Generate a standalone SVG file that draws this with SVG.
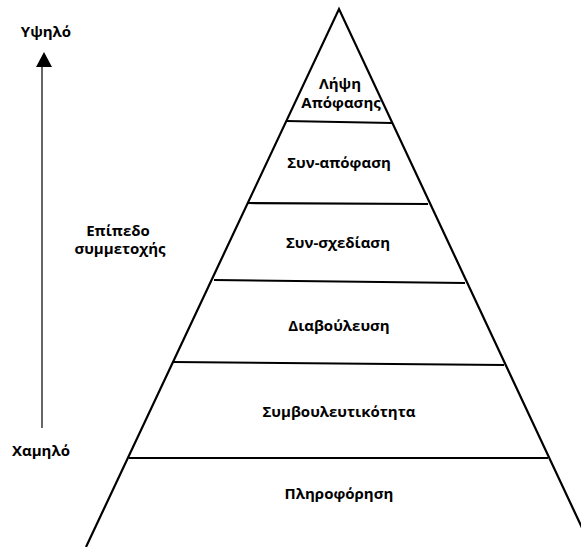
<svg xmlns="http://www.w3.org/2000/svg" width="581" height="547" viewBox="0 0 581 547">
  <defs>
    <style>
      .t { font-family: "Open Sans", "Liberation Sans", sans-serif; font-weight: bold; font-size: 15px; fill: #000; text-anchor: middle; }
      .edge { stroke: #000; stroke-width: 2.2; fill: none; }
      .axis { stroke: #000; stroke-width: 1.2; fill: none; }
    </style>
  </defs>
  <rect width="581" height="547" fill="#fff"/>

  <!-- pyramid outline and level separators -->
  <g id="connectors">
    <path class="edge" d="M86,547 L339,9 L591,547"/>
    <line class="edge" x1="286" y1="121" x2="392" y2="123"/>
    <line class="edge" x1="248" y1="203" x2="428" y2="204"/>
    <line class="edge" x1="214" y1="280" x2="465" y2="283"/>
    <line class="edge" x1="173" y1="362" x2="504" y2="365"/>
    <line class="edge" x1="129" y1="458" x2="548" y2="458"/>
    <!-- participation axis -->
    <line class="axis" x1="42" y1="428" x2="42" y2="66"/>
    <path d="M36,67 L44,52 L52,67 Z" fill="#000"/>
  </g>

  <g id="axis-labels">
    <text class="t" x="46" y="37">Υψηλό</text>
    <text class="t" x="41" y="456">Χαμηλό</text>
    <text class="t" x="118" y="236">Επίπεδο</text>
    <text class="t" x="120" y="254">συμμετοχής</text>
  </g>

  <g id="level-decision">
    <text class="t" x="340" y="89">Λήψη</text>
    <text class="t" x="341" y="108">Απόφασης</text>
  </g>
  <g id="level-codecision">
    <text class="t" x="339" y="168">Συν-απόφαση</text>
  </g>
  <g id="level-codesign">
    <text class="t" x="338" y="248">Συν-σχεδίαση</text>
  </g>
  <g id="level-deliberation">
    <text class="t" x="339" y="331">Διαβούλευση</text>
  </g>
  <g id="level-consultation">
    <text class="t" x="339" y="417">Συμβουλευτικότητα</text>
  </g>
  <g id="level-information">
    <text class="t" x="339" y="499">Πληροφόρηση</text>
  </g>
</svg>
